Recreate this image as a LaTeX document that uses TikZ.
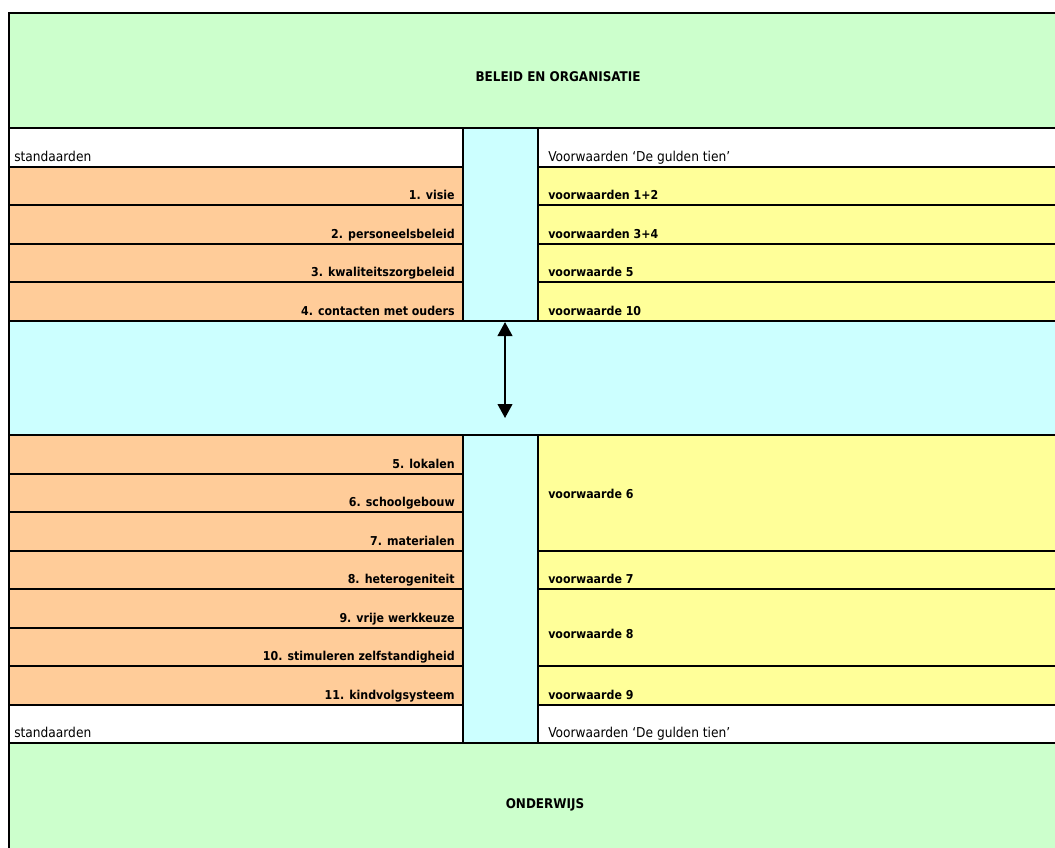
\documentclass[tikz,border=0pt]{standalone}
\usepackage{fontspec}
\setmainfont{DejaVu Sans Condensed}
\usetikzlibrary{arrows.meta}
\definecolor{groen}{HTML}{CCFFCC}
\definecolor{oranje}{HTML}{FFCC99}
\definecolor{geel}{HTML}{FFFF99}
\definecolor{cyaan}{HTML}{CCFFFF}
\begin{document}
\begin{tikzpicture}[x=0.75pt,y=-0.75pt,
  lijn/.style={line width=1.5pt},
  std/.style={anchor=base east,inner sep=0pt,font=\fontsize{9.2}{11}\selectfont\bfseries},
  vw/.style={anchor=base west,inner sep=0pt,font=\fontsize{9.2}{11}\selectfont\bfseries},
  kop/.style={anchor=base,inner sep=0pt,font=\fontsize{10}{12}\selectfont\bfseries},
  gewoon/.style={anchor=base west,inner sep=0pt,font=\fontsize{10.2}{12}\selectfont},
  >={Triangle[width=11pt,length=10.5pt]}]
\useasboundingbox (0,0) rectangle (1055,847);
% vlakken
\fill[groen] (9,13) rectangle (1060,128);
\fill[cyaan] (463,128) rectangle (538,743);
\fill[cyaan] (9,320.5) rectangle (1060,435);
\fill[oranje] (9,166.5) rectangle (463,320.5);
\fill[oranje] (9,435) rectangle (463,704.5);
\fill[geel] (538,166.5) rectangle (1060,320.5);
\fill[geel] (538,435) rectangle (1060,704.5);
\fill[groen] (9,743) rectangle (1060,850);
% lijnen
\draw[lijn] (9,850) -- (9,13) -- (1060,13);
\foreach \y in {128,320.5,435,743} \draw[lijn] (9,\y) -- (1060,\y);
\foreach \y in {166.5,205,243.5,282,473.5,512,550.5,589,627.5,666,704.5} \draw[lijn] (9,\y) -- (463,\y);
\foreach \y in {166.5,205,243.5,282,550.5,589,666,704.5} \draw[lijn] (538,\y) -- (1060,\y);
\foreach \x in {463,538} {
  \draw[lijn] (\x,128) -- (\x,320.5);
  \draw[lijn] (\x,435) -- (\x,743);
}
% teksten
\node[kop] (beleid) at (558,81) {BELEID EN ORGANISATIE};
\node[kop] (onderwijs) at (545,808) {ONDERWIJS};
\node[gewoon] (stdboven) at (14,161) {standaarden};
\node[gewoon] (stdonder) at (14,737.5) {standaarden};
\node[gewoon] (vwboven) at (548,161) {Voorwaarden ‘De gulden tien’};
\node[gewoon] (vwonder) at (548,737.5) {Voorwaarden ‘De gulden tien’};
\foreach \y/\t [count=\i] in {199.5/1. visie,238/2. personeelsbeleid,276.5/3. kwaliteitszorgbeleid,315/4. contacten met ouders,468/5. lokalen,506.5/6. schoolgebouw,545/7. materialen,583.5/8. heterogeniteit,622/9. vrije werkkeuze,660.5/10. stimuleren zelfstandigheid,699/11. kindvolgsysteem}
  \node[std] (s\i) at (455,\y) {\t};
\foreach \y/\t [count=\i] in {199.5/voorwaarden 1+2,238/voorwaarden 3+4,276.5/voorwaarde 5,315/voorwaarde 10,498/voorwaarde 6,583.5/voorwaarde 7,638/voorwaarde 8,699/voorwaarde 9}
  \node[vw] (v\i) at (548,\y) {\t};
% pijl
\coordinate (pijlboven) at (505,322);
\coordinate (pijlonder) at (505,418);
\draw[lijn,<->] (pijlboven) -- (pijlonder);
\end{tikzpicture}
\end{document}
